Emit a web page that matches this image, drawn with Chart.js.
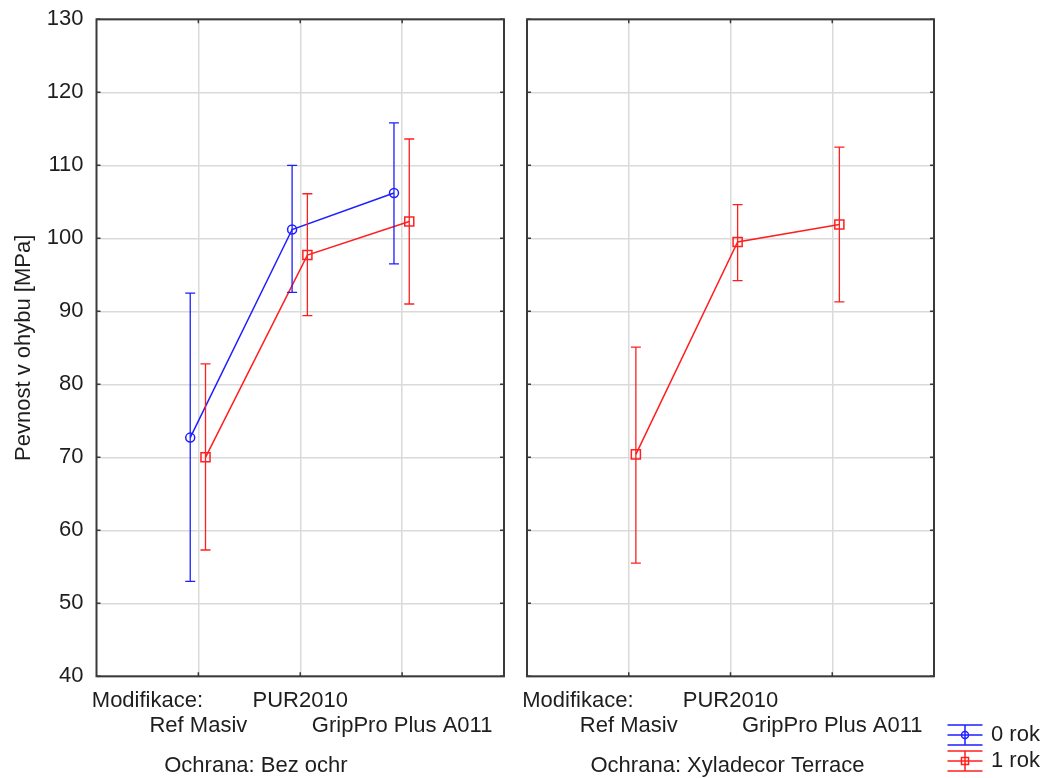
<!DOCTYPE html>
<html>
<head>
<meta charset="utf-8">
<title>Pevnost v ohybu</title>
<script src="https://cdn.jsdelivr.net/npm/chart.js@4.4.0/dist/chart.umd.min.js"></script>
<style>
  html, body { margin: 0; padding: 0; background: #fff; }
  #wrap { position: relative; width: 1047px; height: 778px; }
  #wrap canvas { position: absolute; left: 0; top: 0; }
</style>
</head>
<body>
<div id="wrap">
  <canvas id="bezOchr" width="1047" height="778"></canvas>
  <canvas id="xyladecor" width="1047" height="778"></canvas>
</div>
<script>
// hodnoty (prumer a meze intervalu)
var kategorie = ['Ref Masiv', 'PUR2010', 'GripPro Plus A011'];
var popisRadku = 'Modifikace:';
var yMin = 40, yMax = 130, yKrok = 10;

var bezOchr0 = [72.7, 101.2, 106.2];
var bezOchr0Dolni = [53.0, 92.6, 96.5];
var bezOchr0Horni = [92.5, 110.0, 115.8];

var bezOchr1 = [70.0, 97.7, 102.3];
var bezOchr1Dolni = [57.3, 89.4, 91.0];
var bezOchr1Horni = [82.8, 106.1, 113.6];

var xyl0 = [null, null, null];
var xyl1 = [70.4, 99.5, 101.9];
var xyl1Dolni = [55.5, 94.2, 91.3];
var xyl1Horni = [85.1, 104.6, 112.5];

var FONT = '"Liberation Sans", Arial, sans-serif';
var TEXT = '#1e1e1e';
var MODRA = '#1f1fff';
var CERVENA = '#ff1f1f';
var MRIZKA = '#dadada';

Chart.defaults.font.family = FONT;
Chart.defaults.color = TEXT;

function serie(label, barva, styl, posun, hodnoty, dolni, horni) {
    return {
        label: label,
        data: hodnoty.map(function(v, i) { return {x: i + 1 + posun, y: v}; }),
        errLow: dolni,
        errHigh: horni,
        borderColor: barva,
        backgroundColor: 'rgba(0,0,0,0)',
        borderWidth: 1.5,
        pointStyle: styl,
        pointRadius: styl === 'circle' ? 4.5 : 6.4,
        pointBorderWidth: 1.5,
        pointBackgroundColor: 'rgba(0,0,0,0)',
        showLine: true
    };
}

// chybove useky
var chybyPlugin = {
    id: 'chyby',
    afterDatasetsDraw: function(chart) {
        var ctx = chart.ctx, sx = chart.scales.x, sy = chart.scales.y;
        ctx.save();
        chart.data.datasets.forEach(function(ds) {
            if (!ds.errLow) return;
            ctx.strokeStyle = ds.borderColor;
            ctx.lineWidth = 1.3;
            ds.data.forEach(function(p, i) {
                if (p.y == null) return;
                var x = sx.getPixelForValue(p.x);
                var y1 = sy.getPixelForValue(ds.errLow[i]);
                var y2 = sy.getPixelForValue(ds.errHigh[i]);
                ctx.beginPath();
                ctx.moveTo(x, y1); ctx.lineTo(x, y2);
                ctx.moveTo(x - 5, y1); ctx.lineTo(x + 5, y1);
                ctx.moveTo(x - 5, y2); ctx.lineTo(x + 5, y2);
                ctx.stroke();
            });
        });
        ctx.restore();
    }
};

// ramecek kolem grafu
var ramPlugin = {
    id: 'ram',
    beforeDatasetsDraw: function(chart) {
        var a = chart.chartArea, ctx = chart.ctx, sx = chart.scales.x, sy = chart.scales.y;
        ctx.save();
        ctx.strokeStyle = '#3a3a3a';
        ctx.lineWidth = 2;
        ctx.strokeRect(a.left, a.top, a.right - a.left, a.bottom - a.top);
        ctx.lineWidth = 1.5;
        ctx.beginPath();
        sy.ticks.forEach(function(t) {
            var y = sy.getPixelForValue(t.value);
            ctx.moveTo(a.left, y); ctx.lineTo(a.left + 4, y);
            ctx.moveTo(a.right, y); ctx.lineTo(a.right - 4, y);
        });
        sx.ticks.forEach(function(t) {
            if (t.value % 1) return;
            var x = sx.getPixelForValue(t.value);
            ctx.moveTo(x, a.top); ctx.lineTo(x, a.top + 4);
            ctx.moveTo(x, a.bottom); ctx.lineTo(x, a.bottom - 4);
        });
        ctx.stroke();
        ctx.restore();
    }
};

// popisek "Ochrana: ..." pod osou
var ochranaPlugin = {
    id: 'ochrana',
    afterDraw: function(chart, args, opts) {
        var ctx = chart.ctx, a = chart.chartArea;
        ctx.save();
        ctx.font = '22px ' + FONT;
        ctx.fillStyle = TEXT;
        ctx.textAlign = 'center';
        ctx.textBaseline = 'alphabetic';
        ctx.fillText(opts.text, chart.scales.x.getPixelForValue(opts.at), a.bottom + opts.odsazeni);
        ctx.restore();
    }
};

// legenda vpravo dole
var legendaPlugin = {
    id: 'legenda',
    afterDraw: function(chart, args, opts) {
        var ctx = chart.ctx;
        ctx.save();
        chart.data.datasets.forEach(function(ds, i) {
            var cx = opts.x, cy = opts.y + i * opts.krok, w = 17.5, h = 10;
            ctx.strokeStyle = ds.borderColor;
            ctx.fillStyle = 'rgba(0,0,0,0)';
            ctx.lineWidth = 1.5;
            ctx.beginPath();
            ctx.moveTo(cx - w, cy - h); ctx.lineTo(cx + w, cy - h);
            ctx.moveTo(cx - w, cy); ctx.lineTo(cx + w, cy);
            ctx.moveTo(cx - w, cy + h); ctx.lineTo(cx + w, cy + h);
            ctx.moveTo(cx, cy - h); ctx.lineTo(cx, cy + h);
            ctx.stroke();
            if (Chart.helpers && Chart.helpers.drawPoint) {
                Chart.helpers.drawPoint(ctx, {pointStyle: ds.pointStyle, radius: ds.pointStyle === 'circle' ? 3.5 : 5, borderWidth: 1.5, rotation: 0}, cx, cy);
            }
            ctx.fillStyle = TEXT;
            ctx.font = '22px ' + FONT;
            ctx.textAlign = 'left';
            ctx.textBaseline = 'middle';
            ctx.fillText(ds.label, cx + 26, cy);
        });
        ctx.restore();
    }
};

function xPopisek(value) {
    if (value === 0.5) return [popisRadku, ''];
    var k = Math.round(value) - 1;
    return k % 2 === 1 ? [kategorie[k], ''] : ['', kategorie[k]];
}

function vytvorGraf(id, datasety, sirkaOsyY, praveOdsazeni, ukazOsuY, ochrana, plugins, legenda) {
    var ctx = document.getElementById(id).getContext('2d');
    return new Chart(ctx, {
        type: 'scatter',
        data: { datasets: datasety },
        options: {
            responsive: false,
            animation: false,
            devicePixelRatio: 1,
            events: [],
            layout: { padding: { top: 19.3, right: praveOdsazeni, bottom: 0, left: 0 } },
            scales: {
                x: {
                    type: 'linear',
                    min: 0,
                    max: kategorie.length + 1,
                    afterBuildTicks: function(axis) {
                        axis.ticks = [0.5].concat(kategorie.map(function(c, i) { return i + 1; }))
                            .map(function(v) { return {value: v}; });
                    },
                    afterFit: function(axis) {
                        axis.height = 778 - 676.3;
                        axis.paddingLeft = 0;
                        axis.paddingRight = 0;
                    },
                    border: { display: false },
                    grid: {
                        color: function(c) { return c.tick && c.tick.value === 0.5 ? 'rgba(0,0,0,0)' : MRIZKA; },
                        lineWidth: 1.5,
                        drawTicks: false
                    },
                    ticks: {
                        autoSkip: false,
                        maxRotation: 0,
                        padding: 12,
                        color: TEXT,
                        font: { size: 22, lineHeight: 1.14 },
                        callback: function(value) { return xPopisek(value); }
                    }
                },
                y: {
                    min: yMin,
                    max: yMax,
                    afterFit: function(axis) {
                        axis.width = sirkaOsyY;
                        axis.paddingTop = 0;
                        axis.paddingBottom = 0;
                    },
                    border: { display: false },
                    grid: { color: MRIZKA, lineWidth: 1.5, drawTicks: false },
                    ticks: { display: ukazOsuY, stepSize: yKrok, padding: 13, color: TEXT, font: { size: 22 } },
                    title: {
                        display: ukazOsuY,
                        text: 'Pevnost v ohybu [MPa]',
                        color: TEXT,
                        font: { size: 22 },
                        padding: { top: 11, bottom: 0 }
                    }
                }
            },
            plugins: {
                legend: { display: false },
                tooltip: { enabled: false },
                ochrana: ochrana,
                legenda: legenda || {}
            }
        },
        plugins: plugins
    });
}

vytvorGraf('bezOchr', [
    serie('0 rok', MODRA, 'circle', -0.08, bezOchr0, bezOchr0Dolni, bezOchr0Horni),
    serie('1 rok', CERVENA, 'rect', 0.07, bezOchr1, bezOchr1Dolni, bezOchr1Horni)
], 96.5, 1047 - 504, true, { text: 'Ochrana: Bez ochr', at: 1.565, odsazeni: 96 },
   [ramPlugin, chybyPlugin, ochranaPlugin]);

vytvorGraf('xyladecor', [
    serie('0 rok', MODRA, 'circle', -0.08, xyl0, null, null),
    serie('1 rok', CERVENA, 'rect', 0.07, xyl1, xyl1Dolni, xyl1Horni)
], 527, 1047 - 934, false, { text: 'Ochrana: Xyladecor Terrace', at: 1.97, odsazeni: 96 },
   [ramPlugin, chybyPlugin, ochranaPlugin, legendaPlugin], { x: 965, y: 735, krok: 26 });
</script>
</body>
</html>
